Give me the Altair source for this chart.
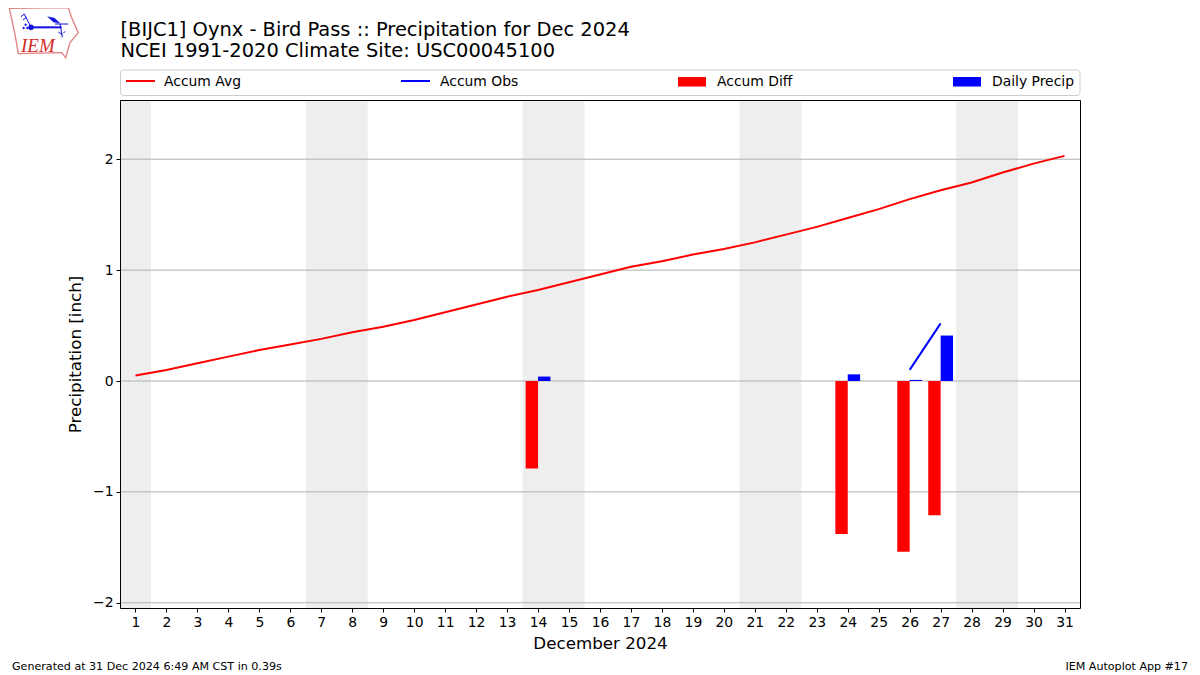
import urllib.parse
import altair as alt
import pandas as pd

FONT = "DejaVu Sans"

days = list(range(1, 32))
accum_avg = [0.05, 0.10, 0.16, 0.22, 0.28, 0.33, 0.38, 0.44, 0.49, 0.55, 0.62,
             0.69, 0.76, 0.82, 0.89, 0.96, 1.03, 1.08, 1.14, 1.19, 1.25, 1.32,
             1.39, 1.47, 1.55, 1.64, 1.72, 1.79, 1.88, 1.96, 2.03]
obs_days = [26, 27]
accum_obs = [0.10, 0.52]
diff_days = [14, 24, 26, 27]
accum_diff = [-0.79, -1.38, -1.54, -1.21]
precip_days = [14, 24, 26, 27]
daily_precip = [0.04, 0.06, 0.01, 0.41]
weekend_start = [0.5, 6.5, 13.5, 20.5, 27.5]
weekend_end = [1.5, 8.5, 15.5, 22.5, 29.5]
y_ticks = [-2, -1, 0, 1, 2]
BAR_W = 0.4

title_lines = ["[BIJC1] Oynx - Bird Pass :: Precipitation for Dec 2024",
               "NCEI 1991-2020 Climate Site: USC00045100"]
x_title = "December 2024"
y_title = "Precipitation [inch]"
footer_left = "Generated at 31 Dec 2024 6:49 AM CST in 0.39s"
footer_right = "IEM Autoplot App #17"

W, H = 960, 508
OX, OY = 120, 100
x_scale = alt.Scale(domain=[0.5, 31.5], nice=False, zero=False)
y_scale = alt.Scale(domain=[-2.047, 2.534], nice=False, zero=False)
one = pd.DataFrame({"a": [0]})


def px(v):
    return alt.value(v - OX)


def py(v):
    return alt.value(v - OY)


x_axis = alt.Axis(values=days, title=x_title, grid=False, domain=False, labelOverlap=False,
                  labelFont=FONT, labelFontSize=13.9, labelColor="#000", labelPadding=3,
                  tickColor="#000", tickSize=4, titleFont=FONT, titleFontSize=16.7,
                  titleFontWeight="normal", titleColor="#000", titlePadding=7, format="d")
y_axis = alt.Axis(values=y_ticks, title=y_title, grid=False, domain=False,
                  labelFont=FONT, labelFontSize=13.9, labelColor="#000", labelPadding=3,
                  labelExpr="replace(datum.label, '-', '\u2212')",
                  tickColor="#000", tickSize=4, titleFont=FONT, titleFontSize=16.7,
                  titleFontWeight="normal", titleColor="#000", titlePadding=8, format="d")
X = lambda f: alt.X(f, scale=x_scale, axis=x_axis)
Y = lambda f: alt.Y(f, scale=y_scale, axis=y_axis)

shade = alt.Chart(pd.DataFrame({"s": weekend_start, "e": weekend_end})).mark_rect(
    color="#eeeeee").encode(x=X("s:Q"), x2="e:Q", y=alt.value(0), y2=alt.value(H))
grid = alt.Chart(pd.DataFrame({"t": y_ticks})).mark_rule(color="#b0b0b0", strokeWidth=1).encode(
    y=Y("t:Q"))

d_df = pd.DataFrame({"d": diff_days, "v": accum_diff})
d_df["l"] = d_df["d"] - BAR_W
diff_bars = alt.Chart(d_df).transform_calculate(z="0").mark_rect(color="#ff0000").encode(
    x=X("l:Q"), x2="d:Q", y=Y("v:Q"), y2="z:Q")
p_df = pd.DataFrame({"d": precip_days, "v": daily_precip})
p_df["r"] = p_df["d"] + BAR_W
precip_bars = alt.Chart(p_df).transform_calculate(z="0").mark_rect(color="#0000ff").encode(
    x=X("d:Q"), x2="r:Q", y=Y("v:Q"), y2="z:Q")

avg_line = alt.Chart(pd.DataFrame({"d": days, "v": accum_avg})).mark_line(
    color="#ff0000", strokeWidth=2).encode(x=X("d:Q"), y=Y("v:Q"))
obs_line = alt.Chart(pd.DataFrame({"d": obs_days, "v": accum_obs})).mark_line(
    color="#0000ff", strokeWidth=2).encode(x=X("d:Q"), y=Y("v:Q"))

layers = [shade, grid, diff_bars, precip_bars, avg_line, obs_line]

# plot frame on top of the shading
layers.append(alt.Chart(one).mark_rect(fill="transparent", stroke="#000000", strokeWidth=1).encode(
    x=alt.value(0.5), x2=alt.value(W + 0.5), y=alt.value(0.5), y2=alt.value(H + 0.5)))

# legend frame
layers.append(alt.Chart(one).mark_rect(fill="white", stroke="#cccccc", strokeWidth=1, cornerRadius=3).encode(
    x=px(120.5), x2=px(1080), y=py(70), y2=py(95.5)))


def label(text, x, y, size=13.9, align="left", color="#000", font=FONT, style="normal"):
    return alt.Chart(one).mark_text(align=align, baseline="alphabetic", fontSize=size, font=font,
                                    color=color, fontStyle=style).encode(
        x=px(x), y=py(y), text=alt.value(text))


for name, color, x0, x1, tx in [("Accum Avg", "#ff0000", 126, 155, 164),
                                ("Accum Obs", "#0000ff", 401, 430, 440)]:
    layers.append(alt.Chart(one).mark_rule(color=color, strokeWidth=2).encode(
        x=px(x0), x2=px(x1), y=py(81)))
    layers.append(label(name, tx, 86))
for name, color, x0, x1, tx in [("Accum Diff", "#ff0000", 678, 706, 717),
                                ("Daily Precip", "#0000ff", 953, 981, 992)]:
    layers.append(alt.Chart(one).mark_rect(color=color).encode(
        x=px(x0), x2=px(x1), y=py(77), y2=py(86.5)))
    layers.append(label(name, tx, 86))

layers.append(label(footer_left, 12, 670, size=11.1))
layers.append(label(footer_right, 1188, 670, size=11.1, align="right"))

# IEM logo
logo_svg = """<svg xmlns='http://www.w3.org/2000/svg' width='80' height='60' viewBox='0 0 240 180'>
<path d='M13,13 L190,11 L200,41 L220,86 L195,116 L182,161 L170,146 L40,149 L30,91 Z' fill='none' stroke='#e08080' stroke-width='4'/>
<g stroke='#1010e0' fill='#1010e0'>
<path d='M78,70 L170,70' stroke-width='6'/>
<circle cx='78' cy='70' r='8'/>
<path d='M78,70 L58,30 M58,30 L48,38 M64,40 L54,48' stroke-width='3' fill='none'/>
<path d='M128,38 L148,42 L165,58 L145,54 Z'/>
<path d='M150,60 L190,60 M165,60 L172,100 M172,92 L160,84 M175,88 L180,82' stroke-width='3' fill='none'/>
<circle cx='62' cy='62' r='3'/><circle cx='56' cy='72' r='3'/><circle cx='67' cy='72' r='3'/>
</g></svg>"""
logo_url = "data:image/svg+xml," + urllib.parse.quote(logo_svg)
layers.append(alt.Chart(pd.DataFrame({"u": [logo_url]})).mark_image(
    width=80, height=60, align="left", baseline="top").encode(
    x=px(5), y=py(4), url="u:N"))
layers.append(label("IEM", 21, 52, size=19, color="#d42a2a", font="Liberation Serif", style="italic"))

chart = alt.layer(*layers).properties(
    width=W, height=H,
    padding={"left": OX - 8, "top": OY - 8, "right": 112, "bottom": 66},
    autosize=alt.AutoSizeParams(type="none"),
    background="white",
    title=alt.TitleParams(text=title_lines, anchor="start", font=FONT, fontSize=19.44,
                          fontWeight="normal", color="#000", lineHeight=21, offset=-57.5, dx=0.5,
                          frame="group"),
).configure_view(stroke=None)

chart.save("out.html", embed_options={"renderer": "svg", "actions": False})
